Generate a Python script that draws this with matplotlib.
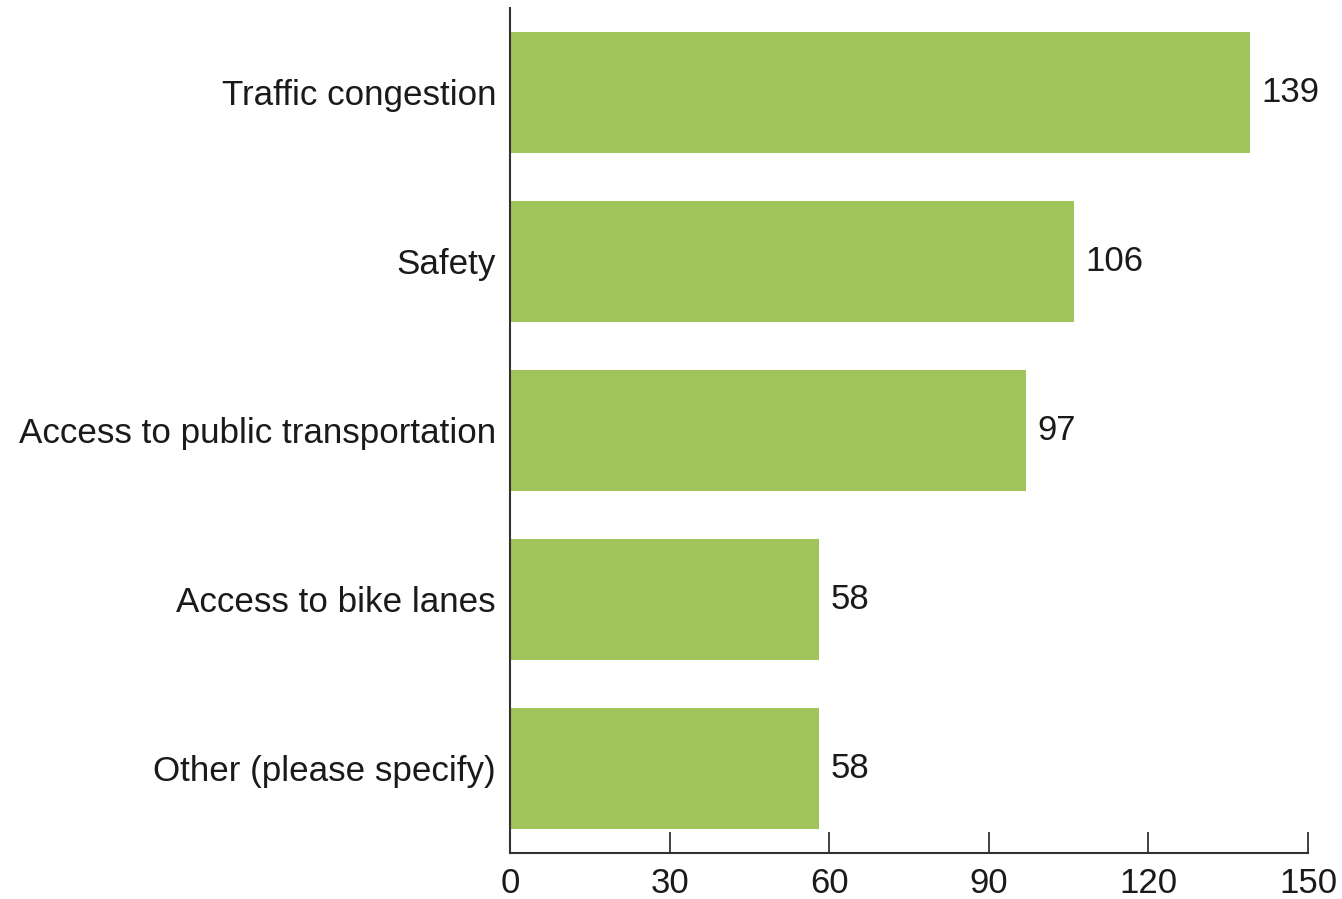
import matplotlib.pyplot as plt

plt.rcParams['font.family'] = ['Liberation Sans', 'DejaVu Sans']

categories = ["Traffic congestion", "Safety", "Access to public transportation",
              "Access to bike lanes", "Other (please specify)"]
counts = [139, 106, 97, 58, 58]
x_ticks = [0, 30, 60, 90, 120, 150]

bar_color = "#A1C45A"
text_color = "#1a1a1a"
axis_color = "#333333"

fig = plt.figure(figsize=(13.42, 8.99), dpi=100)
ax = fig.add_axes([0.380, 0.0512, 0.5947, 0.9399])

pos = list(range(len(categories)))
ax.barh(pos, counts, height=0.715, color=bar_color)

for p, v in zip(pos, counts):
    ax.text(v + 2.2, p, str(v), va="center", ha="left", fontsize=25, color=text_color)

ax.set_xlim(0, 150)
ax.set_ylim(4.5, -0.5)
ax.set_xticks(x_ticks)
ax.set_yticks(pos)
ax.set_yticklabels(categories)

ax.spines["top"].set_visible(False)
ax.spines["right"].set_visible(False)
ax.spines["left"].set_color(axis_color)
ax.spines["bottom"].set_color(axis_color)
ax.spines["left"].set_linewidth(1.5)
ax.spines["bottom"].set_linewidth(1.5)

ax.tick_params(axis="x", direction="in", length=15, width=1.3, color=axis_color,
               labelsize=25, labelcolor=text_color, pad=10)
ax.tick_params(axis="y", length=0, labelsize=25.2, labelcolor=text_color, pad=10)

fig.savefig("out.png", dpi=100)
